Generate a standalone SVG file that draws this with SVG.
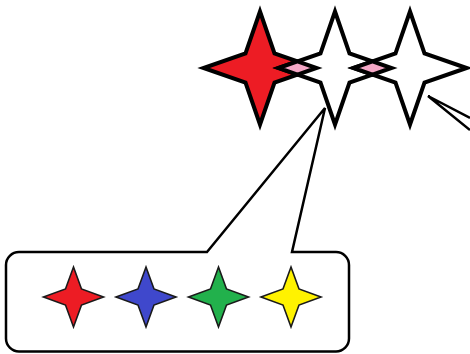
<svg xmlns="http://www.w3.org/2000/svg" width="470" height="354" viewBox="0 0 470 354">
<style>
.big{stroke:#000;stroke-width:4;stroke-linejoin:miter}
.ov{fill:#f4a7c6;stroke:#000;stroke-width:4}
.small{stroke:#1a1a1a;stroke-width:1.6;stroke-linejoin:miter}
.conn{fill:none;stroke:#000;stroke-width:2.5}
.box{fill:#fff;stroke:#000;stroke-width:2.5}
</style>
<defs>
<path id="bigstar" d="M0,-56.5 L14.5,-14.5 L56.5,0 L14.5,14.5 L0,56.5 L-14.5,14.5 L-56.5,0 L-14.5,-14.5 Z"/>
<path id="smallstar" d="M0,-30 L8,-8 L30,0 L8,8 L0,30 L-8,8 L-30,0 L-8,-8 Z"/>
</defs>
<g id="connectors">
<path class="conn" d="M470,118 L428,96 L470,130"/>
</g>
<g id="callout">
<path class="box" d="M207,252 L325,108 L292,252 H336 A13,13 0 0 1 349,265 V338.5 A13,13 0 0 1 336,351.5 H19 A13,13 0 0 1 6,338.5 V265 A13,13 0 0 1 19,252 Z"/>
</g>
<g id="star-red">
<use href="#bigstar" x="260" y="68" class="big" fill="#ed1c24"/>
</g>
<g id="star-white-1">
<use href="#bigstar" x="335" y="68" class="big" fill="#fff"/>
</g>
<g id="star-white-2">
<use href="#bigstar" x="410" y="68" class="big" fill="#fff"/>
</g>
<g id="overlap-1">
<path class="ov" d="M278.5,68 L297.5,61.4 L316.5,68 L297.5,74.6 Z"/>
</g>
<g id="overlap-2">
<path class="ov" d="M353.5,68 L372.5,61.4 L391.5,68 L372.5,74.6 Z"/>
</g>
<g id="palette-red"><use href="#smallstar" x="73.5" y="297" class="small" fill="#ed1c24"/></g>
<g id="palette-blue"><use href="#smallstar" x="146" y="297" class="small" fill="#3f48cc"/></g>
<g id="palette-green"><use href="#smallstar" x="218.5" y="297" class="small" fill="#22b14c"/></g>
<g id="palette-yellow"><use href="#smallstar" x="291" y="297" class="small" fill="#fff200"/></g>
</svg>
